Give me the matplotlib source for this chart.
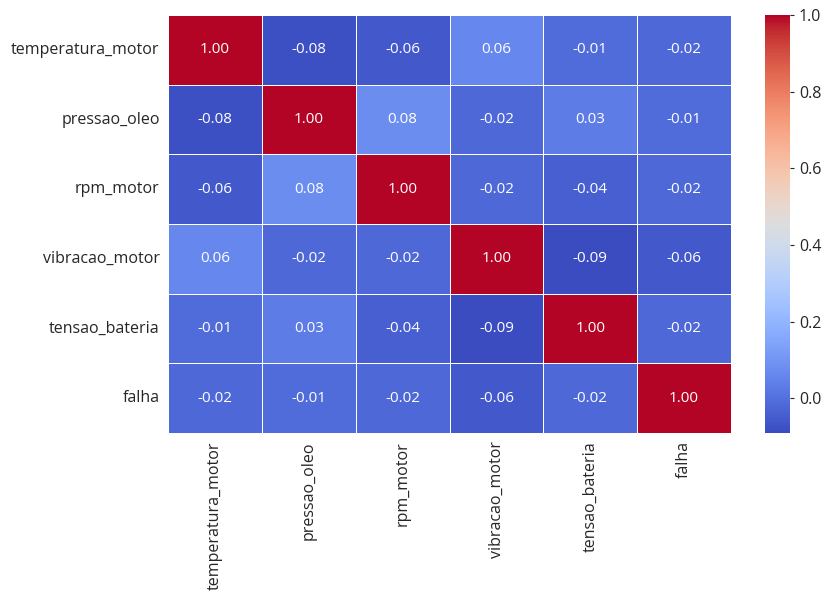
import numpy as np
import pandas as pd
import seaborn as sns
import matplotlib.pyplot as plt

plt.rcParams['font.family'] = ['Open Sans', 'DejaVu Sans']
plt.rcParams['text.color'] = '.15'
plt.rcParams['xtick.color'] = '.15'
plt.rcParams['ytick.color'] = '.15'

colunas = ['temperatura_motor', 'pressao_oleo', 'rpm_motor',
           'vibracao_motor', 'tensao_bateria', 'falha']

temperatura_motor = [1.00, -0.08, -0.06, 0.06, -0.01, -0.02]
pressao_oleo = [-0.08, 1.00, 0.08, -0.02, 0.03, -0.01]
rpm_motor = [-0.06, 0.08, 1.00, -0.02, -0.04, -0.02]
vibracao_motor = [0.06, -0.02, -0.02, 1.00, -0.09, -0.06]
tensao_bateria = [-0.01, 0.03, -0.04, -0.09, 1.00, -0.02]
falha = [-0.02, -0.01, -0.02, -0.06, -0.02, 1.00]

corr = pd.DataFrame([temperatura_motor, pressao_oleo, rpm_motor,
                     vibracao_motor, tensao_bateria, falha],
                    index=colunas, columns=colunas)

fig = plt.figure(figsize=(8.25, 5.95), dpi=100)
ax = fig.add_axes([168/825, 1 - 433/595, (731-168)/825, (433-15)/595])
cax = fig.add_axes([765/825, 1 - 433/595, 25/825, (433-15)/595])

sns.heatmap(corr, annot=True, fmt='.2f', cmap='coolwarm', linewidths=0.5,
            ax=ax, cbar_ax=cax, annot_kws={'size': 11})

ax.tick_params(axis='both', labelsize=11.5, length=0, pad=6)
plt.setp(ax.get_xticklabels(), rotation=90)
plt.setp(ax.get_yticklabels(), rotation=0)
cax.tick_params(labelsize=11.5, length=3, width=0.8)
cax.set_frame_on(False)

plt.savefig('out.png')
